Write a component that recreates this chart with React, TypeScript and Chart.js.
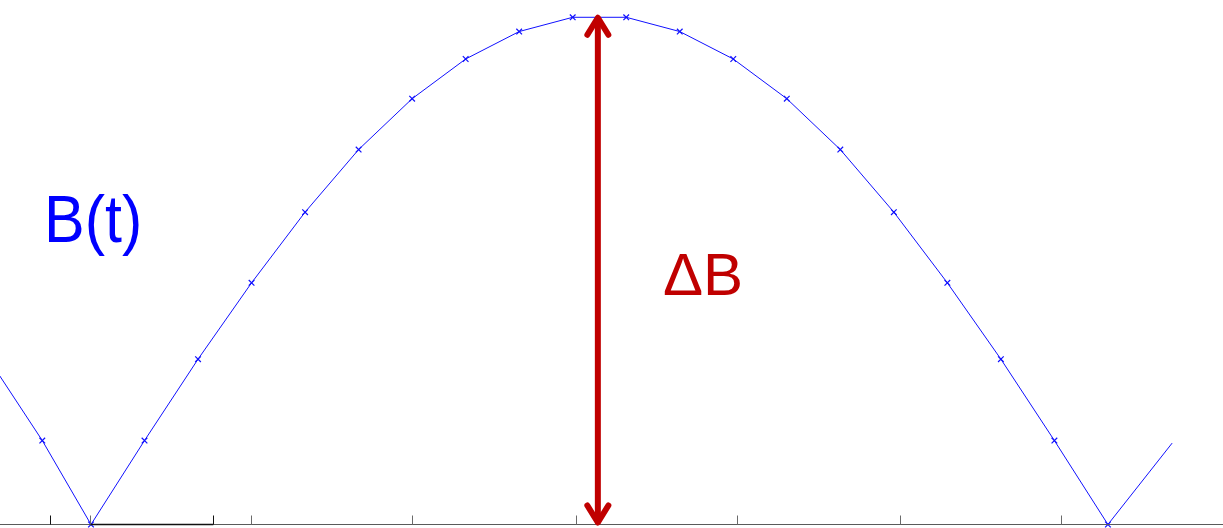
import React, { useEffect, useRef } from "react";
import { Chart, registerables } from "chart.js";

Chart.register(...registerables);

// Sample times (in sample steps) and the rectified signal B(t)
const sampleTimes = [-1.91, -0.91, 0, 1, 2, 3, 4, 5, 6, 7, 8, 9, 10, 11, 12, 13, 14, 15, 16, 17, 18, 19, 20.2];
const fieldValues = [
  0.325, 0.165, 0, 0.165, 0.325, 0.475, 0.614, 0.737, 0.837, 0.915, 0.969, 0.997,
  0.997, 0.969, 0.915, 0.837, 0.737, 0.614, 0.475, 0.325, 0.165, 0, 0.16,
];
// Last point is the open end of the trace, drawn without a marker
const markerShown = sampleTimes.map((_, i) => i < sampleTimes.length - 1);

// Tick marks on the time axis (unlabelled)
const tickValues = [-0.766, -0.019, 2.285, 2.984, 6.003, 9.055, 12.063, 15.114, 18.116];
const darkTicks = [-0.766, 2.285];

// Peak-to-trough annotation
const arrowTime = 9.47;
const arrowFrom = 0;
const arrowTo = 1.0;

const xRange = [-1.7, 21.15];
const yRange = [0, 1.031];

const annotationPlugin = {
  id: "annotations",
  afterDatasetsDraw(chart: any) {
    const { ctx } = chart;
    const xs = chart.scales.x;
    const ys = chart.scales.y;
    const y0 = ys.getPixelForValue(0);

    ctx.save();
    // axis line
    ctx.strokeStyle = "#5a5a5a";
    ctx.lineWidth = 1.2;
    ctx.beginPath();
    ctx.moveTo(0, y0);
    ctx.lineTo(chart.width, y0);
    ctx.stroke();
    ctx.strokeStyle = "#111";
    ctx.lineWidth = 1.6;
    ctx.beginPath();
    ctx.moveTo(xs.getPixelForValue(-0.019), y0);
    ctx.lineTo(xs.getPixelForValue(2.285), y0);
    ctx.stroke();

    // tick marks pointing up into the plot
    tickValues.forEach((v) => {
      const px = Math.round(xs.getPixelForValue(v)) + 0.5;
      ctx.strokeStyle = darkTicks.includes(v) ? "#111" : "#6a6a6a";
      ctx.lineWidth = 1;
      ctx.beginPath();
      ctx.moveTo(px, y0);
      ctx.lineTo(px, y0 - 9);
      ctx.stroke();
    });

    // double-headed arrow
    const ax = xs.getPixelForValue(arrowTime);
    const aTop = ys.getPixelForValue(arrowTo);
    const aBot = ys.getPixelForValue(arrowFrom);
    ctx.strokeStyle = "#c00000";
    ctx.lineWidth = 6;
    ctx.lineCap = "round";
    ctx.lineJoin = "round";
    ctx.beginPath();
    ctx.moveTo(ax, aTop + 3);
    ctx.lineTo(ax, aBot - 3);
    ctx.stroke();
    ctx.beginPath();
    ctx.moveTo(ax - 10.5, aTop + 19);
    ctx.lineTo(ax, aTop + 2);
    ctx.lineTo(ax + 10.5, aTop + 19);
    ctx.stroke();
    ctx.beginPath();
    ctx.moveTo(ax - 10.5, aBot - 19);
    ctx.lineTo(ax, aBot - 2);
    ctx.lineTo(ax + 10.5, aBot - 19);
    ctx.stroke();

    // labels
    ctx.fillStyle = "#c00000";
    ctx.font = '60px "Liberation Sans", Arial, sans-serif';
    ctx.textBaseline = "alphabetic";
    ctx.fillText("ΔB", 663, 295);

    ctx.fillStyle = "#0000ff";
    ctx.translate(44, 242);
    ctx.scale(1, 1.1);
    ctx.font = '61px "Liberation Sans", Arial, sans-serif';
    ctx.fillText("B(t)", 0, 0);
    ctx.restore();
  },
};

export default function App() {
  const canvasRef = useRef<HTMLCanvasElement | null>(null);

  useEffect(() => {
    document.body.style.margin = "0";
    const canvas = canvasRef.current;
    if (!canvas) return;
    const chart = new Chart(canvas, {
      type: "line",
      data: {
        datasets: [
          {
            data: sampleTimes.map((t, i) => ({ x: t, y: fieldValues[i] })),
            borderColor: "#1010ff",
            borderWidth: 1,
            pointStyle: "crossRot",
            pointRadius: markerShown.map((m) => (m ? 4 : 0)),
            pointBorderColor: "#1010ff",
            pointBorderWidth: 1.2,
            tension: 0,
            clip: false,
          },
        ],
      },
      options: {
        animation: false,
        responsive: false,
        events: [],
        layout: { autoPadding: false, padding: { top: 0, bottom: 3.5, left: 0, right: 0 } },
        plugins: { legend: { display: false }, tooltip: { enabled: false } },
        scales: {
          x: { type: "linear", display: false, min: xRange[0], max: xRange[1] },
          y: { type: "linear", display: false, min: yRange[0], max: yRange[1] },
        },
      },
      plugins: [annotationPlugin],
    });
    return () => chart.destroy();
  }, []);

  return (
    <div style={{ width: 1223, height: 528, background: "#fff" }}>
      <canvas ref={canvasRef} width={1223} height={528} />
    </div>
  );
}
